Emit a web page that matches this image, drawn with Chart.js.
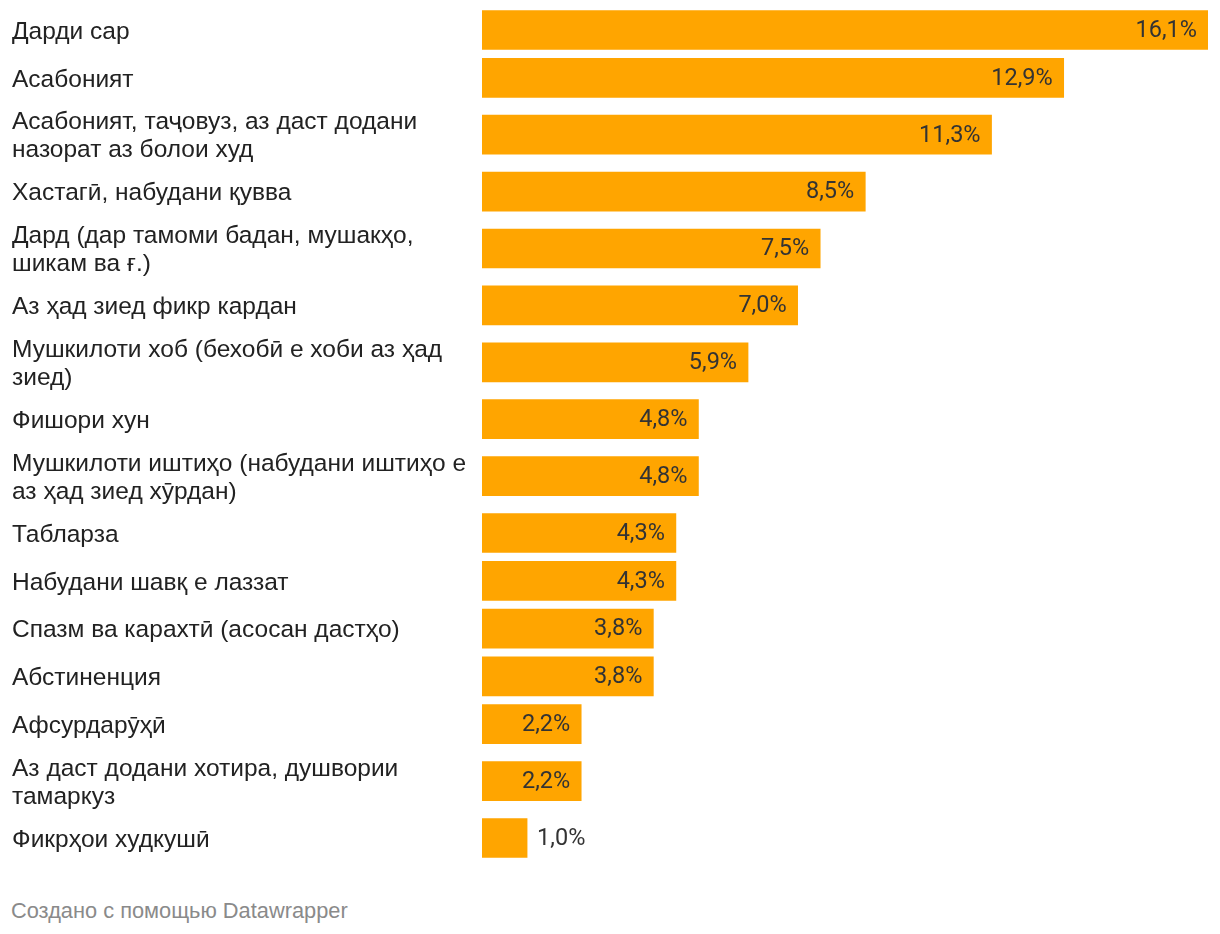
<!DOCTYPE html>
<html>
<head>
<meta charset="utf-8">
<script src="https://cdn.jsdelivr.net/npm/chart.js@4/dist/chart.umd.min.js"></script>
<style>
  html, body { margin: 0; padding: 0; background: #fff; }
  #wrap { position: relative; width: 1220px; height: 934px; }
  #chartBox { position: absolute; left: 0; top: 0; width: 1220px; height: 870px; }
  #footer { position: absolute; left: 11px; top: 898px; font-family: "Liberation Sans", Arial, sans-serif; font-size: 21.8px; line-height: 26px; color: #8a8a8a; }
</style>
</head>
<body>
<div id="wrap">
  <div id="chartBox"><canvas id="c"></canvas></div>
  <div id="footer">Создано с помощью Datawrapper</div>
</div>
<script>
const categories = [
  ["Дарди сар"],
  ["Асабоният"],
  ["Асабоният, таҷовуз, аз даст додани", "назорат аз болои худ"],
  ["Хастагӣ, набудани қувва"],
  ["Дард (дар тамоми бадан, мушакҳо,", "шикам ва ғ.)"],
  ["Аз ҳад зиед фикр кардан"],
  ["Мушкилоти хоб (бехобӣ е хоби аз ҳад", "зиед)"],
  ["Фишори хун"],
  ["Мушкилоти иштиҳо (набудани иштиҳо е", "аз ҳад зиед хӯрдан)"],
  ["Табларза"],
  ["Набудани шавқ е лаззат"],
  ["Спазм ва карахтӣ (асосан дастҳо)"],
  ["Абстиненция"],
  ["Афсурдарӯҳӣ"],
  ["Аз даст додани хотира, душвории", "тамаркуз"],
  ["Фикрҳои худкушӣ"]
];
const values = [16.1, 12.9, 11.3, 8.5, 7.5, 7.0, 5.9, 4.8, 4.8, 4.3, 4.3, 3.8, 3.8, 2.2, 2.2, 1.0];

// Layout: row spacing depends on how many text lines the neighbouring labels have
const GAP_SINGLE = 47.8, GAP_MIXED = 56.9;
const LABEL_NUDGE = 2;
const rowPos = [];
categories.forEach((lines, i) => {
  if (i === 0) { rowPos.push(0); return; }
  const multi = lines.length > 1 || categories[i - 1].length > 1;
  rowPos.push(rowPos[i - 1] + (multi ? GAP_MIXED : GAP_SINGLE));
});
const lastPos = rowPos[rowPos.length - 1];

const fmt = v => v.toFixed(1).replace('.', ',') + '%';

const valueLabels = {
  id: 'valueLabels',
  afterDatasetsDraw(chart) {
    const ctx = chart.ctx;
    const meta = chart.getDatasetMeta(0);
    ctx.save();
    ctx.font = '23.5px Roboto, "Liberation Sans", sans-serif';
    ctx.textBaseline = 'middle';
    ctx.fillStyle = '#333333';
    meta.data.forEach((bar, i) => {
      const txt = fmt(values[i]);
      const w = ctx.measureText(txt).width;
      const barW = bar.x - bar.base;
      if (barW > w + 20) {
        ctx.textAlign = 'right';
        ctx.fillText(txt, bar.x - 11, bar.y + 1);
      } else {
        ctx.textAlign = 'left';
        ctx.fillText(txt, bar.x + 10, bar.y + 1);
      }
    });
    ctx.restore();
  }
};

new Chart(document.getElementById('c'), {
  type: 'bar',
  data: {
    datasets: [{
      data: values.map((v, i) => ({ x: v, y: rowPos[i] })),
      backgroundColor: '#FFA500',
      borderWidth: 0,
      barThickness: 39
    }]
  },
  options: {
    indexAxis: 'y',
    responsive: true,
    maintainAspectRatio: false,
    animation: false,
    layout: { padding: { left: 12, right: 12, top: 10, bottom: 12 } },
    plugins: { legend: { display: false }, tooltip: { enabled: false } },
    scales: {
      x: {
        type: 'linear',
        display: false,
        min: 0,
        max: values[0]
      },
      y: {
        type: 'linear',
        reverse: true,
        offset: false,
        min: -20,
        max: lastPos + 20,
        grid: { display: false, offset: false },
        border: { display: false },
        afterBuildTicks(scale) {
          scale.ticks = rowPos.map(v => ({ value: v + LABEL_NUDGE }));
        },
        afterFit(scale) {
          scale.width = 470;
          scale.paddingTop = 0;
          scale.paddingBottom = 0;
        },
        ticks: {
          crossAlign: 'far',
          autoSkip: false,
          padding: 0,
          color: '#222222',
          font: { family: '"Liberation Sans", Arial, sans-serif', size: 24.5, lineHeight: 1.145 },
          callback: (value, index) => categories[index]
        }
      }
    }
  },
  plugins: [valueLabels]
});
</script>
</body>
</html>
